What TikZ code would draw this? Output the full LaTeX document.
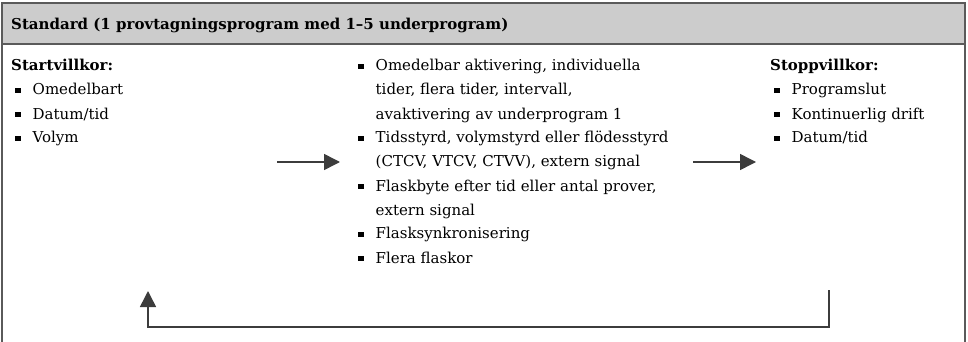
\documentclass[tikz,border=0pt]{standalone}
\usepackage{fontspec}
\setmainfont{DejaVu Serif}
\usetikzlibrary{arrows.meta}
\definecolor{hdrgray}{RGB}{204,204,204}
\definecolor{linegray}{RGB}{60,60,60}
\definecolor{framegray}{RGB}{90,90,90}
\newcommand{\sqb}{\hspace{4pt}\raisebox{0.2ex}{\rule{5.5pt}{5.5pt}}}
\tikzset{
  txt/.style={anchor=base west, inner sep=0pt, font=\fontsize{15}{24}\selectfont, text=black},
  hdr/.style={anchor=base west, inner sep=0pt, font=\fontsize{15}{24}\selectfont\bfseries, text=black},
  border/.style={draw=framegray, line width=1.2pt},
  flow/.style={draw=linegray, line width=1.5pt, -{Triangle[length=16pt,width=16pt]}}
}
\begin{document}
\begin{tikzpicture}[x=1pt,y=-1pt]
\useasboundingbox (0,0) rectangle (968,342);
% header band and frame
\path[fill=hdrgray] (2,3) rectangle (965,44);
\draw[border] (2,342) -- (2,3) -- (965,3) -- (965,342);
\draw[draw=framegray, line width=2pt] (2,44) -- (965,44);
\node[hdr] (title) at (11,30) {Standard (1 provtagningsprogram med 1–5 underprogram)};
% left column
\node[txt] (left) at (11,71) {\begin{tabular}[t]{@{}l@{\hspace{12pt}}l@{}}
\multicolumn{2}{@{}l@{}}{\bfseries Startvillkor:}\\
\sqb & Omedelbart\\
\sqb & Datum/tid\\
\sqb & Volym
\end{tabular}};
% middle column
\node[txt] (mid) at (354,71) {\begin{tabular}[t]{@{}l@{\hspace{12pt}}l@{}}
\sqb & Omedelbar aktivering, individuella\\
 & tider, flera tider, intervall,\\
 & avaktivering av underprogram 1\\
\sqb & Tidsstyrd, volymstyrd eller flödesstyrd\\
 & (CTCV, VTCV, CTVV), extern signal\\
\sqb & Flaskbyte efter tid eller antal prover,\\
 & extern signal\\
\sqb & Flasksynkronisering\\
\sqb & Flera flaskor
\end{tabular}};
% right column
\node[txt] (right) at (770,71) {\begin{tabular}[t]{@{}l@{\hspace{12pt}}l@{}}
\multicolumn{2}{@{}l@{}}{\bfseries Stoppvillkor:}\\
\sqb & Programslut\\
\sqb & Kontinuerlig drift\\
\sqb & Datum/tid
\end{tabular}};
% arrows
\coordinate (a1s) at (277,162);
\coordinate (a1e) at (340,162);
\coordinate (a2s) at (693,162);
\coordinate (a2e) at (756,162);
\draw[flow] (a1s) -- (a1e);
\draw[flow] (a2s) -- (a2e);
% feedback loop
\coordinate (ls) at (829,290);
\coordinate (lc1) at (829,327);
\coordinate (lc2) at (148,327);
\coordinate (le) at (148,291);
\draw[flow] (ls) -- (lc1) -- (lc2) -- (le);
\end{tikzpicture}
\end{document}
